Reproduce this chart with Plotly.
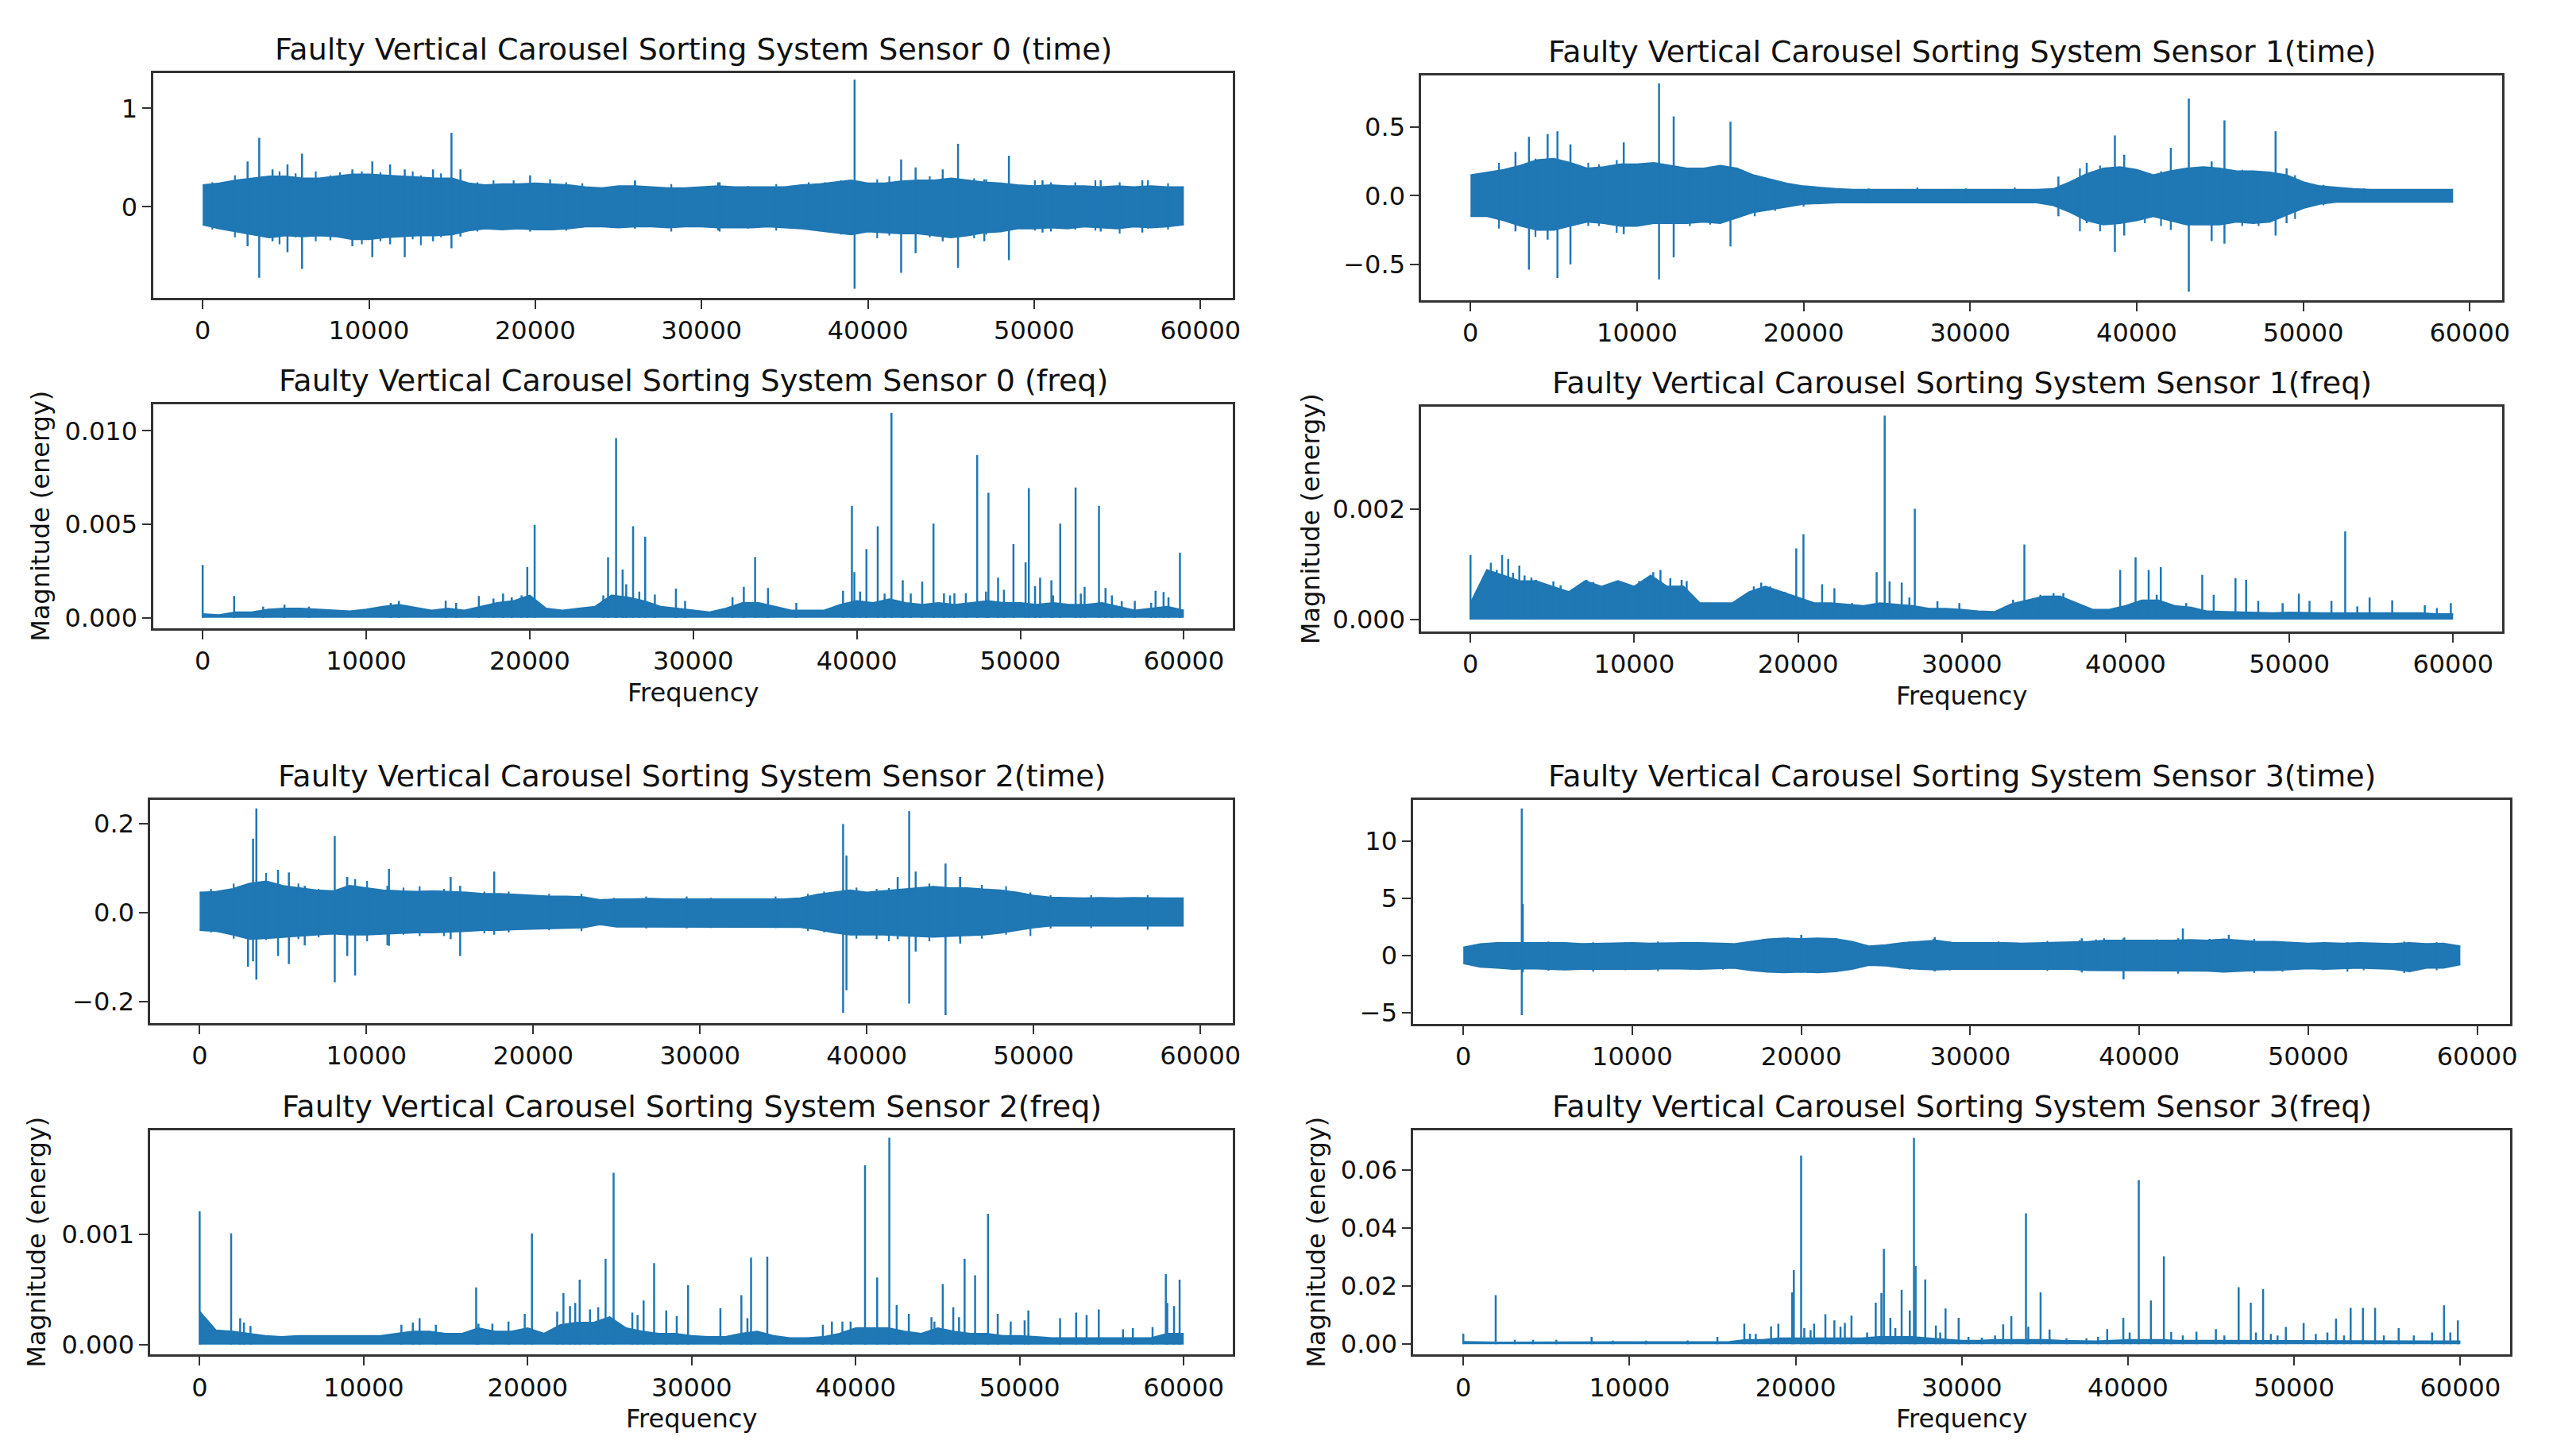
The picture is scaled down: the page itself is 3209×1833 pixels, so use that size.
import plotly.graph_objects as go

W, H = 3209, 1833
BLUE = "#1f77b4"
FONT = "DejaVu Sans"
TXT = "#111111"

# ------------------------------------------------------------------ data
time_index = list(range(0, 60000, 1000))      # sample index (0 .. 59000)
freq_index = list(range(0, 61000, 1000))      # frequency bins (0 .. 60000)
x_ticks = [0, 10000, 20000, 30000, 40000, 50000, 60000]
x_tick_labels = ["0", "10000", "20000", "30000", "40000", "50000", "60000"]

# ---- Sensor 0 (time)
s0_time_upper = [0.22, 0.24, 0.27, 0.29, 0.31, 0.31, 0.29, 0.29, 0.31, 0.33,
                 0.33, 0.32, 0.31, 0.30, 0.29, 0.29, 0.24, 0.22, 0.23, 0.23,
                 0.24, 0.23, 0.22, 0.20, 0.19, 0.21, 0.21, 0.20, 0.19, 0.19,
                 0.20, 0.21, 0.20, 0.20, 0.20, 0.20, 0.22, 0.23, 0.25, 0.27,
                 0.24, 0.24, 0.26, 0.27, 0.27, 0.29, 0.27, 0.25, 0.24, 0.22,
                 0.21, 0.22, 0.21, 0.21, 0.20, 0.21, 0.20, 0.21, 0.20, 0.20]
s0_time_lower = [-0.18, -0.22, -0.25, -0.28, -0.31, -0.29, -0.30, -0.29, -0.30, -0.33,
                 -0.33, -0.31, -0.30, -0.29, -0.29, -0.28, -0.24, -0.22, -0.23, -0.22,
                 -0.23, -0.23, -0.22, -0.20, -0.20, -0.21, -0.20, -0.20, -0.21, -0.20,
                 -0.20, -0.21, -0.21, -0.21, -0.20, -0.21, -0.22, -0.24, -0.26, -0.28,
                 -0.25, -0.26, -0.27, -0.27, -0.29, -0.31, -0.29, -0.26, -0.25, -0.22,
                 -0.22, -0.21, -0.22, -0.20, -0.21, -0.22, -0.20, -0.21, -0.20, -0.18]
s0_time_spike_x = [2700, 3400, 4200, 5100, 5975, 9000, 10200, 11270, 12150, 13850,
                   14960, 15500, 19690, 26000, 31000, 39200, 42000, 42870, 44500, 45420,
                   47000, 48480, 50500, 54000, 56500]
s0_time_spike_hi = [0.46, 0.70, 0.38, 0.43, 0.54, 0.38, 0.46, 0.43, 0.38, 0.38,
                    0.75, 0.38, 0.32, 0.26, 0.25, 1.29, 0.48, 0.40, 0.38, 0.64,
                    0.28, 0.52, 0.27, 0.27, 0.27]
s0_time_spike_lo = [-0.40, -0.72, -0.35, -0.46, -0.63, -0.40, -0.51, -0.38, -0.51, -0.35,
                    -0.42, -0.30, -0.25, -0.22, -0.24, -0.83, -0.67, -0.47, -0.35, -0.62,
                    -0.35, -0.54, -0.26, -0.25, -0.26]
s0_time_minor_x = [580, 1940, 4620, 5590, 6800, 7680, 8260, 9570, 10690, 12630,
                   13120, 14330, 16520, 17490, 18700, 20890, 21860, 22830, 25990, 28180,
                   31090, 32790, 34490, 36440, 37410, 38380, 40560, 41290, 43720, 46390,
                   47120, 50040, 51010, 52470, 53680, 55140, 56840, 58050]
s0_time_minor_hi = [0.25, 0.32, 0.36, 0.34, 0.36, 0.32, 0.35, 0.36, 0.35, 0.36,
                    0.32, 0.34, 0.25, 0.27, 0.27, 0.28, 0.25, 0.24, 0.27, 0.23,
                    0.25, 0.21, 0.23, 0.25, 0.25, 0.27, 0.28, 0.31, 0.31, 0.29,
                    0.28, 0.27, 0.25, 0.25, 0.27, 0.25, 0.27, 0.24]
s0_time_minor_lo = [-0.23, -0.31, -0.38, -0.31, -0.35, -0.34, -0.31, -0.38, -0.35, -0.33,
                    -0.39, -0.31, -0.25, -0.23, -0.22, -0.23, -0.24, -0.21, -0.21, -0.25,
                    -0.25, -0.22, -0.24, -0.23, -0.25, -0.28, -0.32, -0.29, -0.31, -0.32,
                    -0.28, -0.24, -0.25, -0.23, -0.24, -0.27, -0.22, -0.23]

# ---- Sensor 1 (time)
s1_time_upper = [0.15, 0.17, 0.19, 0.22, 0.26, 0.27, 0.24, 0.20, 0.21, 0.23,
                 0.23, 0.24, 0.22, 0.20, 0.20, 0.22, 0.20, 0.15, 0.12, 0.09,
                 0.07, 0.06, 0.05, 0.045, 0.045, 0.045, 0.045, 0.045, 0.045, 0.045,
                 0.045, 0.045, 0.045, 0.045, 0.045, 0.05, 0.10, 0.16, 0.20, 0.21,
                 0.19, 0.15, 0.18, 0.20, 0.21, 0.20, 0.18, 0.18, 0.17, 0.15,
                 0.10, 0.07, 0.06, 0.05, 0.045, 0.045, 0.045, 0.045, 0.045, 0.045]
s1_time_lower = [-0.15, -0.15, -0.18, -0.22, -0.25, -0.25, -0.22, -0.19, -0.20, -0.22,
                 -0.22, -0.20, -0.20, -0.20, -0.19, -0.20, -0.16, -0.12, -0.10, -0.08,
                 -0.06, -0.055, -0.05, -0.05, -0.05, -0.05, -0.05, -0.05, -0.05, -0.05,
                 -0.05, -0.05, -0.05, -0.05, -0.05, -0.07, -0.12, -0.18, -0.21, -0.20,
                 -0.18, -0.15, -0.18, -0.21, -0.21, -0.21, -0.19, -0.20, -0.19, -0.14,
                 -0.09, -0.06, -0.045, -0.045, -0.045, -0.045, -0.045, -0.045, -0.045, -0.045]
s1_time_spike_x = [2700, 3510, 4630, 5220, 6000, 9200, 11320, 12200, 15610, 35300,
                   37000, 38690, 39250, 42050, 43130, 44500, 45270, 48340, 49000]
s1_time_spike_hi = [0.32, 0.43, 0.45, 0.47, 0.375, 0.39, 0.82, 0.58, 0.54, 0.14,
                    0.24, 0.44, 0.30, 0.35, 0.71, 0.25, 0.55, 0.47, 0.20]
s1_time_spike_lo = [-0.26, -0.54, -0.32, -0.60, -0.50, -0.28, -0.61, -0.45, -0.37, -0.15,
                    -0.20, -0.41, -0.29, -0.25, -0.70, -0.33, -0.35, -0.29, -0.20]
s1_time_minor_x = [585, 1710, 3900, 7070, 7710, 8780, 10000, 11710, 13170, 14390,
                   17070, 18290, 20000, 23900, 26830, 29760, 32680, 36590, 37800, 40490,
                   41460, 43900, 46340, 47320, 49510, 51220, 53660, 56100]
s1_time_minor_hi = [0.15, 0.24, 0.27, 0.24, 0.23, 0.26, 0.23, 0.20, 0.19, 0.17,
                    0.12, 0.11, 0.07, 0.054, 0.06, 0.054, 0.06, 0.20, 0.22, 0.16,
                    0.18, 0.20, 0.19, 0.18, 0.15, 0.08, 0.054, 0.048]
s1_time_minor_lo = [-0.15, -0.24, -0.30, -0.22, -0.22, -0.27, -0.22, -0.20, -0.22, -0.21,
                    -0.15, -0.11, -0.08, -0.055, -0.055, -0.055, -0.055, -0.26, -0.26, -0.20,
                    -0.22, -0.21, -0.22, -0.22, -0.17, -0.07, -0.05, -0.05]

# ---- Sensor 2 (time)
s2_time_upper = [0.045, 0.047, 0.053, 0.065, 0.07, 0.06, 0.055, 0.05, 0.048, 0.06,
                 0.055, 0.05, 0.048, 0.047, 0.048, 0.047, 0.045, 0.042, 0.042, 0.040,
                 0.038, 0.036, 0.036, 0.035, 0.028, 0.030, 0.030, 0.031, 0.030, 0.030,
                 0.030, 0.031, 0.030, 0.030, 0.031, 0.030, 0.032, 0.040, 0.045, 0.05,
                 0.045, 0.048, 0.052, 0.055, 0.058, 0.055, 0.055, 0.052, 0.05, 0.045,
                 0.038, 0.034, 0.033, 0.032, 0.033, 0.032, 0.033, 0.032, 0.032, 0.032]
s2_time_lower = [-0.04, -0.042, -0.05, -0.06, -0.058, -0.055, -0.052, -0.05, -0.048, -0.05,
                 -0.05, -0.048, -0.047, -0.045, -0.045, -0.044, -0.042, -0.04, -0.04, -0.038,
                 -0.037, -0.036, -0.036, -0.034, -0.027, -0.032, -0.032, -0.032, -0.032, -0.032,
                 -0.032, -0.032, -0.032, -0.032, -0.032, -0.032, -0.033, -0.038, -0.045, -0.05,
                 -0.05, -0.05, -0.052, -0.053, -0.055, -0.053, -0.052, -0.05, -0.046, -0.04,
                 -0.034, -0.03, -0.03, -0.03, -0.03, -0.03, -0.03, -0.03, -0.03, -0.03]
s2_time_spike_x = [2900, 3200, 3400, 4700, 5350, 6300, 8100, 8850, 9320, 11350,
                   15050, 15620, 17660, 38580, 38780, 41850, 42540, 42930, 44720, 45600]
s2_time_spike_hi = [0.05, 0.166, 0.234, 0.096, 0.09, 0.06, 0.172, 0.08, 0.075, 0.098,
                    0.08, 0.06, 0.092, 0.199, 0.128, 0.08, 0.228, 0.092, 0.11, 0.08]
s2_time_spike_lo = [-0.122, -0.11, -0.151, -0.098, -0.116, -0.074, -0.157, -0.098, -0.142, -0.075,
                    -0.06, -0.098, -0.05, -0.226, -0.175, -0.06, -0.205, -0.088, -0.231, -0.07]
s2_time_minor_x = [680, 2040, 3980, 5920, 7130, 8830, 10040, 11250, 12220, 13190,
                   14650, 17070, 18530, 20950, 22890, 24830, 26770, 29200, 30650, 34530,
                   36470, 37440, 39380, 40590, 41320, 43750, 45590, 46900, 48350, 49810,
                   51020, 53450, 56840]
s2_time_minor_hi = [0.053, 0.065, 0.089, 0.065, 0.053, 0.08, 0.071, 0.06, 0.056, 0.059,
                    0.053, 0.047, 0.047, 0.042, 0.042, 0.033, 0.036, 0.036, 0.033, 0.036,
                    0.042, 0.047, 0.056, 0.053, 0.055, 0.065, 0.08, 0.062, 0.059, 0.045,
                    0.039, 0.039, 0.039]
s2_time_minor_lo = [-0.045, -0.059, -0.062, -0.06, -0.056, -0.06, -0.065, -0.074, -0.05, -0.053,
                    -0.053, -0.047, -0.045, -0.04, -0.042, -0.024, -0.036, -0.036, -0.035, -0.035,
                    -0.042, -0.045, -0.059, -0.06, -0.065, -0.065, -0.06, -0.059, -0.05, -0.053,
                    -0.036, -0.035, -0.039]

# ---- Sensor 3 (time)
s3_time_upper = [0.7, 1.0, 1.1, 1.1, 1.15, 1.1, 1.1, 1.0, 1.05, 1.1,
                 1.1, 1.05, 1.1, 1.1, 1.1, 1.05, 1.0, 1.2, 1.4, 1.5,
                 1.45, 1.5, 1.45, 1.2, 0.8, 0.9, 1.1, 1.2, 1.3, 1.1,
                 1.1, 1.15, 1.1, 1.05, 1.1, 1.1, 1.15, 1.2, 1.3, 1.3,
                 1.25, 1.3, 1.3, 1.35, 1.3, 1.4, 1.3, 1.2, 1.2, 1.1,
                 1.05, 1.1, 1.05, 1.1, 1.05, 1.0, 1.1, 1.0, 1.05, 0.8]
s3_time_lower = [-0.7, -1.0, -1.1, -1.2, -1.15, -1.2, -1.25, -1.2, -1.2, -1.2,
                 -1.25, -1.2, -1.15, -1.2, -1.2, -1.15, -1.1, -1.3, -1.45, -1.5,
                 -1.45, -1.5, -1.4, -1.2, -0.85, -0.9, -1.1, -1.2, -1.25, -1.2,
                 -1.2, -1.25, -1.2, -1.2, -1.2, -1.25, -1.2, -1.3, -1.3, -1.35,
                 -1.3, -1.3, -1.35, -1.3, -1.35, -1.45, -1.35, -1.3, -1.3, -1.2,
                 -1.15, -1.2, -1.15, -1.1, -1.15, -1.2, -1.4, -1.1, -1.1, -0.8]
s3_time_spike_x = [3460, 3520, 20000, 27900, 36600, 39070, 42300, 42580, 45300]
s3_time_spike_hi = [12.86, 4.5, 1.8, 1.6, 1.5, 1.5, 1.5, 2.37, 1.8]
s3_time_spike_lo = [-5.23, -1.5, -1.5, -1.4, -1.5, -2.1, -1.6, -0.9, -1.4]
s3_time_minor_x = [2880, 5040, 7680, 9600, 11520, 13440, 15360, 17760, 19200, 20400,
                   22080, 26400, 27840, 28800, 31680, 34560, 36480, 37440, 37920, 39120,
                   41040, 44160, 46800, 48480, 50880, 52320, 53280, 55680, 57600]
s3_time_minor_hi = [1.17, 1.22, 1.15, 1.17, 1.22, 1.17, 1.1, 1.45, 1.57, 1.5,
                    1.5, 1.22, 1.45, 1.2, 1.22, 1.27, 1.34, 1.4, 1.5, 1.57,
                    1.4, 1.45, 1.45, 1.22, 1.17, 1.15, 1.1, 1.22, 1.17]
s3_time_minor_lo = [-1.27, -1.36, -1.43, -1.3, -1.38, -1.25, -1.25, -1.43, -1.5, -1.54,
                    -1.45, -1.25, -1.3, -1.31, -1.27, -1.36, -1.3, -1.31, -1.3, -1.35,
                    -1.3, -1.4, -1.54, -1.43, -1.3, -1.43, -1.3, -1.54, -1.31]

# ---- Sensor 0 (freq)
s0_freq_floor = [0.0002, 0.00015, 0.0003, 0.0003, 0.00045, 0.0005, 0.0005, 0.00045, 0.0004, 0.00035,
                 0.00045, 0.0006, 0.0007, 0.00055, 0.0004, 0.0005, 0.0004, 0.0006, 0.0008, 0.0009,
                 0.0012, 0.0005, 0.0004, 0.0005, 0.0006, 0.0012, 0.0011, 0.0009, 0.0006, 0.0005,
                 0.0004, 0.0003, 0.0005, 0.0008, 0.0008, 0.0006, 0.0004, 0.0004, 0.0004, 0.0007,
                 0.0009, 0.0008, 0.001, 0.0008, 0.0007, 0.0008, 0.0007, 0.0008, 0.0009, 0.0008,
                 0.0008, 0.0007, 0.0008, 0.0007, 0.0007, 0.0008, 0.0006, 0.0004, 0.0005, 0.0006,
                 0.0004]
s0_peak_freq = [0, 1925, 14860, 16890, 17780, 18370, 19850, 20300, 24790, 25280,
                25680, 26320, 27060, 27650, 28940, 33090, 33780, 34570, 39160, 39700,
                39850, 40590, 41280, 42120, 42810, 44000, 44690, 45330, 45970, 46670,
                47360, 48050, 48640, 49580, 50320, 50520, 51210, 51900, 52440, 53380,
                53930, 54810, 55210, 56200, 58270, 58760, 59060, 59760,
                3700, 5000, 6500, 11500, 12000, 15500, 18900, 19500, 24500, 25900,
                26700, 29500, 32400, 36300, 40200, 41700, 43300, 45700, 47900, 49000,
                50900, 52000, 53700, 55600, 57000, 58000]
s0_peak_mag = [0.00283, 0.00117, 0.00092, 0.00117, 0.00103, 0.0013, 0.00272, 0.00497, 0.00324, 0.00962,
               0.00258, 0.0049, 0.00434, 0.00124, 0.00156, 0.00166, 0.00325, 0.0016, 0.00145, 0.00599,
               0.00244, 0.00368, 0.0049, 0.01096, 0.00201, 0.00194, 0.00504, 0.00131, 0.00131, 0.00131,
               0.0087, 0.00669, 0.00215, 0.00394, 0.00297, 0.00694, 0.00215, 0.00201, 0.00504, 0.00697,
               0.00166, 0.00599, 0.0016, 0.00089, 0.00145, 0.00138, 0.0011, 0.00349,
               0.0006, 0.0007, 0.0006, 0.0008, 0.0009, 0.0008, 0.0011, 0.0012, 0.0012, 0.0018,
               0.0014, 0.0009, 0.0011, 0.0008, 0.0014, 0.0013, 0.0013, 0.0012, 0.0014, 0.0015,
               0.0017, 0.0012, 0.0013, 0.0012, 0.0009, 0.0008]

# ---- Sensor 1 (freq)
s1_freq_floor = [0.0003, 0.0009, 0.0008, 0.0007, 0.0007, 0.0006, 0.0005, 0.0007, 0.0006, 0.0007,
                 0.0006, 0.0008, 0.0006, 0.0006, 0.0003, 0.0003, 0.0003, 0.0005, 0.0006, 0.0005,
                 0.0004, 0.0003, 0.0003, 0.00028, 0.00025, 0.0003, 0.00028, 0.00025, 0.0002, 0.0002,
                 0.00018, 0.00015, 0.00014, 0.00028, 0.00035, 0.00042, 0.00042, 0.0003, 0.00018, 0.00018,
                 0.00025, 0.00035, 0.00035, 0.00025, 0.00022, 0.00015, 0.00014, 0.00013, 0.00013, 0.00012,
                 0.00013, 0.00012, 0.00012, 0.00012, 0.00012, 0.00012, 0.00012, 0.00012, 0.00012, 0.0001,
                 0.0001]
s1_peak_freq = [0, 1240, 1930, 2980, 3720, 5060, 7090, 8930, 11160, 12890,
                17750, 19890, 20330, 21470, 22220, 24800, 25290, 25590, 26330, 27130,
                28510, 29850, 33130, 33820, 39670, 40610, 41410, 42150, 44680, 45380,
                46710, 47360, 48100, 49590, 50580, 51230, 52570, 53410, 54150, 54900,
                56280, 58270, 59010, 59860,
                1600, 2300, 2600, 3300, 4000, 4500, 5500, 6300, 7500, 8200,
                9500, 10300, 11600, 12200, 13200, 17300, 18300, 19200, 23300, 26800,
                34800, 35600, 36200, 41900, 43700]
s1_peak_mag = [0.00117, 0.00103, 0.00117, 0.00098, 0.00076, 0.00069, 0.00072, 0.00067, 0.00086, 0.00072,
               0.00067, 0.00129, 0.00155, 0.00064, 0.00057, 0.00086, 0.0037, 0.00069, 0.00067, 0.00201,
               0.00033, 0.0003, 0.00036, 0.00136, 0.0009, 0.00113, 0.0009, 0.00095, 0.00081, 0.00045,
               0.00075, 0.00072, 0.00034, 0.0003, 0.00047, 0.00034, 0.00034, 0.0016, 0.00024, 0.0004,
               0.00035, 0.00026, 0.00021, 0.0003,
               0.0009, 0.0011, 0.00085, 0.0008, 0.00072, 0.00065, 0.00062, 0.00055, 0.00068, 0.0006,
               0.0006, 0.0007, 0.0009, 0.00075, 0.0007, 0.0006, 0.0006, 0.0005, 0.0003, 0.0004,
               0.00045, 0.00048, 0.00048, 0.00045, 0.0003]

# ---- Sensor 2 (freq)
s2_freq_floor = [0.0003, 0.00013, 0.00012, 0.0001, 0.00008, 0.00007, 0.00008, 0.00008, 0.00008, 0.00008,
                 0.00008, 0.00008, 0.0001, 0.00012, 0.00012, 0.0001, 0.0001, 0.00015, 0.00012, 0.00012,
                 0.00015, 0.0001, 0.00018, 0.0002, 0.0002, 0.00025, 0.00015, 0.00012, 0.0001, 0.0001,
                 0.00008, 0.00007, 0.00007, 0.0001, 0.00012, 0.00008, 0.00006, 0.00006, 0.00007, 0.0001,
                 0.00015, 0.00015, 0.00015, 0.00012, 0.0001, 0.00015, 0.00012, 0.0001, 0.0001, 0.00008,
                 0.00008, 0.00007, 0.00006, 0.00006, 0.00006, 0.00006, 0.00006, 0.00006, 0.00006, 0.0001,
                 0.0001]
s2_peak_freq = [0, 1920, 2470, 13410, 16860, 17850, 18830, 19820, 20260, 22180,
                22580, 23170, 24750, 25240, 26380, 27070, 27710, 28450, 29090, 29780,
                31750, 33030, 33620, 34610, 38550, 39190, 39690, 40570, 41310, 42050,
                42500, 43240, 44620, 45310, 45950, 46640, 47280, 48070, 48660, 49450,
                50530, 52460, 53440, 54080, 54820, 56300, 58910, 59410, 59750,
                2700, 3100, 12300, 13000, 14400, 17000, 21800, 22900, 23800, 24300,
                26700, 33400, 38000, 44800, 46300, 50300, 56900, 58100, 59000]
s2_peak_mag = [0.00121, 0.00101, 0.00024, 0.00024, 0.00052, 0.00019, 0.00021, 0.00028, 0.00101, 0.00047,
               0.00035, 0.00059, 0.00078, 0.00156, 0.00029, 0.0004, 0.00074, 0.00031, 0.00026, 0.00054,
               0.00033, 0.00045, 0.00079, 0.0008, 0.00021, 0.00021, 0.00021, 0.00163, 0.00061, 0.00188,
               0.00036, 0.00028, 0.00025, 0.00055, 0.00034, 0.00078, 0.00063, 0.00119, 0.00028, 0.00021,
               0.00031, 0.00024, 0.00029, 0.00027, 0.00032, 0.00014, 0.00064, 0.00035, 0.00059,
               0.0002, 0.00017, 0.00018, 0.0002, 0.00018, 0.00019, 0.0003, 0.00038, 0.00032, 0.00034,
               0.00027, 0.00024, 0.00018, 0.00021, 0.00025, 0.00022, 0.00015, 0.00016, 0.00038]

# ---- Sensor 3 (freq)
s3_freq_floor = [0.0008, 0.0006, 0.0006, 0.0006, 0.0006, 0.0006, 0.0006, 0.0006, 0.0006, 0.0006,
                 0.0006, 0.0006, 0.0006, 0.0006, 0.0006, 0.0006, 0.0008, 0.0015, 0.0015, 0.002,
                 0.002, 0.002, 0.002, 0.002, 0.002, 0.0025, 0.0025, 0.0025, 0.002, 0.0015,
                 0.0012, 0.0012, 0.0015, 0.0015, 0.0015, 0.0015, 0.0012, 0.001, 0.001, 0.0012,
                 0.0015, 0.0015, 0.0015, 0.0012, 0.0012, 0.0012, 0.0012, 0.0012, 0.0012, 0.001,
                 0.001, 0.001, 0.0012, 0.0012, 0.0012, 0.0012, 0.001, 0.001, 0.001, 0.0012,
                 0.001]
s3_peak_freq = [0, 1950, 7720, 15290, 16910, 17250, 18520, 18960, 19790, 19890,
                20330, 20520, 21110, 21790, 22330, 22960, 23360, 24820, 25160, 25310,
                25700, 26380, 26870, 27120, 27220, 27800, 28440, 29020, 29810, 32490,
                32980, 33860, 34740, 35280, 38750, 39720, 40650, 41380, 42160, 44120,
                45290, 46660, 47390, 48130, 49500, 50570, 52520, 53400, 54140, 54870,
                56290, 59020, 59850,
                3100, 4200, 5600, 9000, 11000, 13500, 17600, 20900, 22700, 24300,
                26000, 28700, 30400, 31200, 32000, 34000, 36300, 37500, 38200, 40100,
                42600, 43300, 45800, 47700, 48600, 49000, 51300, 52000, 53000, 55400,
                57200, 58300, 59400]
s3_peak_mag = [0.0036, 0.0169, 0.0025, 0.0025, 0.007, 0.0036, 0.0061, 0.007, 0.0178, 0.0255,
               0.065, 0.0055, 0.007, 0.0103, 0.0082, 0.0073, 0.0098, 0.0143, 0.0176, 0.0328,
               0.0091, 0.0187, 0.0116, 0.0711, 0.0269, 0.0223, 0.0064, 0.0123, 0.0091, 0.0068,
               0.0096, 0.0451, 0.0178, 0.005, 0.0052, 0.0091, 0.0565, 0.015, 0.0303, 0.0043,
               0.0052, 0.0196, 0.0143, 0.0189, 0.0059, 0.0073, 0.0088, 0.0125, 0.0125, 0.0125,
               0.0055, 0.0134, 0.0082,
               0.0015, 0.0015, 0.0015, 0.0012, 0.0012, 0.0013, 0.0035, 0.0048, 0.006, 0.004,
               0.0055, 0.004, 0.0025, 0.0022, 0.003, 0.006, 0.002, 0.002, 0.0025, 0.004,
               0.0042, 0.003, 0.003, 0.004, 0.0035, 0.003, 0.0035, 0.004, 0.003, 0.003,
               0.003, 0.004, 0.004]

titles = [
    "Faulty Vertical Carousel Sorting System Sensor 0 (time)",
    "Faulty Vertical Carousel Sorting System Sensor 1(time)",
    "Faulty Vertical Carousel Sorting System Sensor 0 (freq)",
    "Faulty Vertical Carousel Sorting System Sensor 1(freq)",
    "Faulty Vertical Carousel Sorting System Sensor 2(time)",
    "Faulty Vertical Carousel Sorting System Sensor 3(time)",
    "Faulty Vertical Carousel Sorting System Sensor 2(freq)",
    "Faulty Vertical Carousel Sorting System Sensor 3(freq)",
]
y_ticks = [
    ([0, 1], ["0", "1"]),
    ([-0.5, 0, 0.5], ["\u22120.5", "0.0", "0.5"]),
    ([0, 0.005, 0.010], ["0.000", "0.005", "0.010"]),
    ([0, 0.002], ["0.000", "0.002"]),
    ([-0.2, 0, 0.2], ["\u22120.2", "0.0", "0.2"]),
    ([-5, 0, 5, 10], ["\u22125", "0", "5", "10"]),
    ([0, 0.001], ["0.000", "0.001"]),
    ([0, 0.02, 0.04, 0.06], ["0.00", "0.02", "0.04", "0.06"]),
]
y_label = "Magnitude (energy)"
x_label = "Frequency"

# ------------------------------------------------------------------ layout (pixels)
panel_box = {
    1: (194, 1557, 92, 376),
    2: (1795, 3160, 95, 379),
    3: (194, 1557, 511, 794),
    4: (1795, 3160, 514, 798),
    5: (190, 1557, 1011, 1293),
    6: (1785, 3170, 1011, 1294),
    7: (190, 1557, 1428, 1712),
    8: (1785, 3170, 1428, 1712),
}
y_ranges = {
    1: [-0.92, 1.36], 2: [-0.76, 0.88], 3: [-0.00056, 0.01142], 4: [-0.000215, 0.00386],
    5: [-0.249, 0.253], 6: [-6.0, 13.6], 7: [-0.0000913, 0.00195], 8: [-0.00365, 0.0738],
}
ylabel_x = {3: 51, 4: 1656, 7: 46, 8: 1662}


def px_x(p):
    return p / W


def px_y(p):
    return 1 - p / H


fig = go.Figure()


def axes_of(n):
    return ("x", "y") if n == 1 else (f"x{n}", f"y{n}")


def add_bars(n, xs_in, his, los, width):
    xa, ya = axes_of(n)
    xs, ys = [], []
    for x, hi, lo in zip(xs_in, his, los):
        xs += [x, x, None]
        ys += [lo, hi, None]
    fig.add_trace(go.Scatter(x=xs, y=ys, mode="lines", line=dict(color=BLUE, width=width),
                             xaxis=xa, yaxis=ya, showlegend=False, hoverinfo="skip"))


def add_time(n, upper, lower, sx, shi, slo, mx, mhi, mlo):
    xa, ya = axes_of(n)
    fig.add_trace(go.Scatter(x=time_index, y=lower, mode="lines", line=dict(color=BLUE, width=2),
                             xaxis=xa, yaxis=ya, showlegend=False, hoverinfo="skip"))
    fig.add_trace(go.Scatter(x=time_index, y=upper, mode="lines", line=dict(color=BLUE, width=2),
                             fill="tonexty", fillcolor=BLUE,
                             xaxis=xa, yaxis=ya, showlegend=False, hoverinfo="skip"))
    add_bars(n, mx, mhi, mlo, 2.2)
    add_bars(n, sx, shi, slo, 2.5)


def add_freq(n, floor, pf, pm):
    xa, ya = axes_of(n)
    fig.add_trace(go.Scatter(x=freq_index, y=floor, mode="lines", line=dict(color=BLUE, width=2),
                             fill="tozeroy", fillcolor=BLUE,
                             xaxis=xa, yaxis=ya, showlegend=False, hoverinfo="skip"))
    add_bars(n, pf, pm, [0] * len(pm), 2.5)


add_time(1, s0_time_upper, s0_time_lower, s0_time_spike_x, s0_time_spike_hi, s0_time_spike_lo,
         s0_time_minor_x, s0_time_minor_hi, s0_time_minor_lo)
add_time(2, s1_time_upper, s1_time_lower, s1_time_spike_x, s1_time_spike_hi, s1_time_spike_lo,
         s1_time_minor_x, s1_time_minor_hi, s1_time_minor_lo)
add_freq(3, s0_freq_floor, s0_peak_freq, s0_peak_mag)
add_freq(4, s1_freq_floor, s1_peak_freq, s1_peak_mag)
add_time(5, s2_time_upper, s2_time_lower, s2_time_spike_x, s2_time_spike_hi, s2_time_spike_lo,
         s2_time_minor_x, s2_time_minor_hi, s2_time_minor_lo)
add_time(6, s3_time_upper, s3_time_lower, s3_time_spike_x, s3_time_spike_hi, s3_time_spike_lo,
         s3_time_minor_x, s3_time_minor_hi, s3_time_minor_lo)
add_freq(7, s2_freq_floor, s2_peak_freq, s2_peak_mag)
add_freq(8, s3_freq_floor, s3_peak_freq, s3_peak_mag)

axis_common = dict(showline=True, mirror=True, linecolor="#333333", linewidth=3,
                   ticks="outside", ticklen=11, tickwidth=2, tickcolor="#333333",
                   showgrid=False, zeroline=False,
                   tickfont=dict(family=FONT, size=32, color=TXT))

annotations = []
layout_axes = {}
for n in range(1, 9):
    x0, x1, y0, y1 = panel_box[n]
    is_freq = n in (3, 4, 7, 8)
    xr = [-3000, 63000] if is_freq else [-2950, 61950]
    sfx = "" if n == 1 else str(n)
    layout_axes["xaxis" + sfx] = dict(domain=[px_x(x0), px_x(x1)], range=xr, anchor="y" + sfx,
                                      tickvals=x_ticks, ticktext=x_tick_labels, **axis_common)
    tv, tt = y_ticks[n - 1]
    layout_axes["yaxis" + sfx] = dict(domain=[px_y(y1), px_y(y0)], range=y_ranges[n], anchor="x" + sfx,
                                      tickvals=tv, ticktext=tt, **axis_common)
    annotations.append(dict(text=titles[n - 1], x=px_x((x0 + x1) / 2), y=px_y(y0 - 30),
                            xref="paper", yref="paper", xanchor="center", yanchor="middle",
                            showarrow=False, font=dict(family=FONT, size=38, color=TXT)))
    if is_freq:
        annotations.append(dict(text=x_label, x=px_x((x0 + x1) / 2), y=px_y(y1 + 81),
                                xref="paper", yref="paper", xanchor="center", yanchor="middle",
                                showarrow=False, font=dict(family=FONT, size=32, color=TXT)))
        annotations.append(dict(text=y_label, x=px_x(ylabel_x[n]), y=px_y((y0 + y1) / 2),
                                xref="paper", yref="paper", xanchor="center", yanchor="middle",
                                textangle=-90, showarrow=False,
                                font=dict(family=FONT, size=32, color=TXT)))

fig.update_layout(width=W, height=H, margin=dict(l=0, r=0, t=0, b=0),
                  paper_bgcolor="white", plot_bgcolor="white",
                  annotations=annotations, **layout_axes)

fig.write_html("out.html", config={"displayModeBar": False},
               post_script="document.body.style.margin='0';document.body.style.overflow='hidden';")
